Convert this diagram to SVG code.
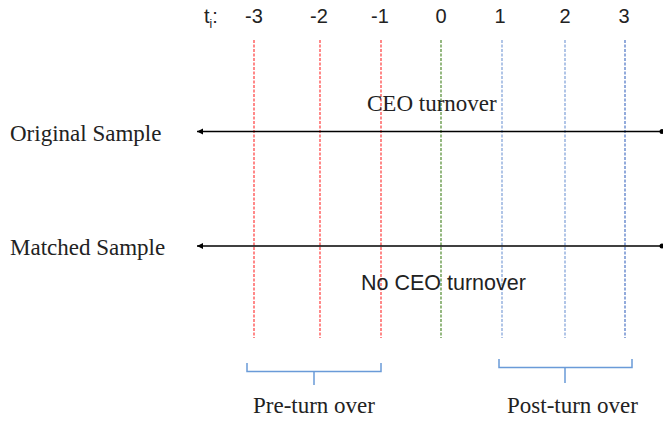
<svg xmlns="http://www.w3.org/2000/svg" width="663" height="422" viewBox="0 0 663 422">
<style>
.sans{font-family:"Liberation Sans",Arial,sans-serif;font-size:20px;fill:#222}
.sansl{font-family:"Liberation Sans",Arial,sans-serif;font-size:21.5px;fill:#222}
.serif{font-family:"Liberation Serif","Times New Roman",serif;font-size:23px;fill:#222}
.red{stroke:#ff3b3b;stroke-width:1.2;stroke-dasharray:3 1.5}
.green{stroke:#4f8a2e;stroke-width:1.2;stroke-dasharray:3 1.5}
.blue{stroke:#4a72c4;stroke-width:1.2;stroke-dasharray:3 1.5}
.blue2{stroke:#7d9fd8;stroke-width:1.2;stroke-dasharray:3 1.5}
.axis{stroke:#000;stroke-width:1.3;fill:none}
.brace{stroke:#6a9bd8;stroke-width:1.5;fill:none}
</style>
<defs>
<marker id="ah" markerWidth="8" markerHeight="8" refX="1" refY="4" orient="auto" markerUnits="userSpaceOnUse">
<path d="M7,1 L1,4 L7,7 Z" fill="#000"/>
</marker>
</defs>
<g id="header">
<text class="sans" x="204" y="23">t<tspan font-size="12" dy="5">i</tspan><tspan dy="-5">:</tspan></text>
<text class="sans" x="254" y="23" text-anchor="middle">-3</text>
<text class="sans" x="319" y="23" text-anchor="middle">-2</text>
<text class="sans" x="380" y="23" text-anchor="middle">-1</text>
<text class="sans" x="441" y="23" text-anchor="middle">0</text>
<text class="sans" x="500" y="23" text-anchor="middle">1</text>
<text class="sans" x="565" y="23" text-anchor="middle">2</text>
<text class="sans" x="624" y="23" text-anchor="middle">3</text>
</g>
<g id="time-lines">
<line class="red" x1="254" y1="40" x2="254" y2="338"/>
<line class="red" x1="320" y1="40" x2="320" y2="338"/>
<line class="red" x1="381" y1="40" x2="381" y2="338"/>
<line class="green" x1="441" y1="40" x2="441" y2="338"/>
<line class="blue2" x1="502" y1="40" x2="502" y2="338"/>
<line class="blue2" x1="565" y1="40" x2="565" y2="338"/>
<line class="blue" x1="625" y1="40" x2="625" y2="338"/>
</g>
<g id="connectors">
<line class="axis" x1="197" y1="131.5" x2="661" y2="131.5" marker-start="url(#ah)"/>
<circle cx="662" cy="131.5" r="2.5" fill="#000"/>
<line class="axis" x1="197" y1="246" x2="661" y2="246" marker-start="url(#ah)"/>
<circle cx="662" cy="246" r="2.5" fill="#000"/>
</g>
<g id="original-sample">
<text class="serif" x="10" y="141">Original Sample</text>
<text class="serif" x="367" y="111">CEO turnover</text>
</g>
<g id="matched-sample">
<text class="serif" x="10" y="255">Matched Sample</text>
<text class="sansl" x="361" y="290">No CEO turnover</text>
</g>
<g id="pre-turnover">
<path class="brace" d="M247,363 V371.5 H381 V363 M314,371.5 V385"/>
<text class="serif" x="253" y="413">Pre-turn over</text>
</g>
<g id="post-turnover">
<path class="brace" d="M499,359 V367.5 H632 V359 M565,367.5 V383"/>
<text class="serif" x="507" y="413">Post-turn over</text>
</g>
</svg>
